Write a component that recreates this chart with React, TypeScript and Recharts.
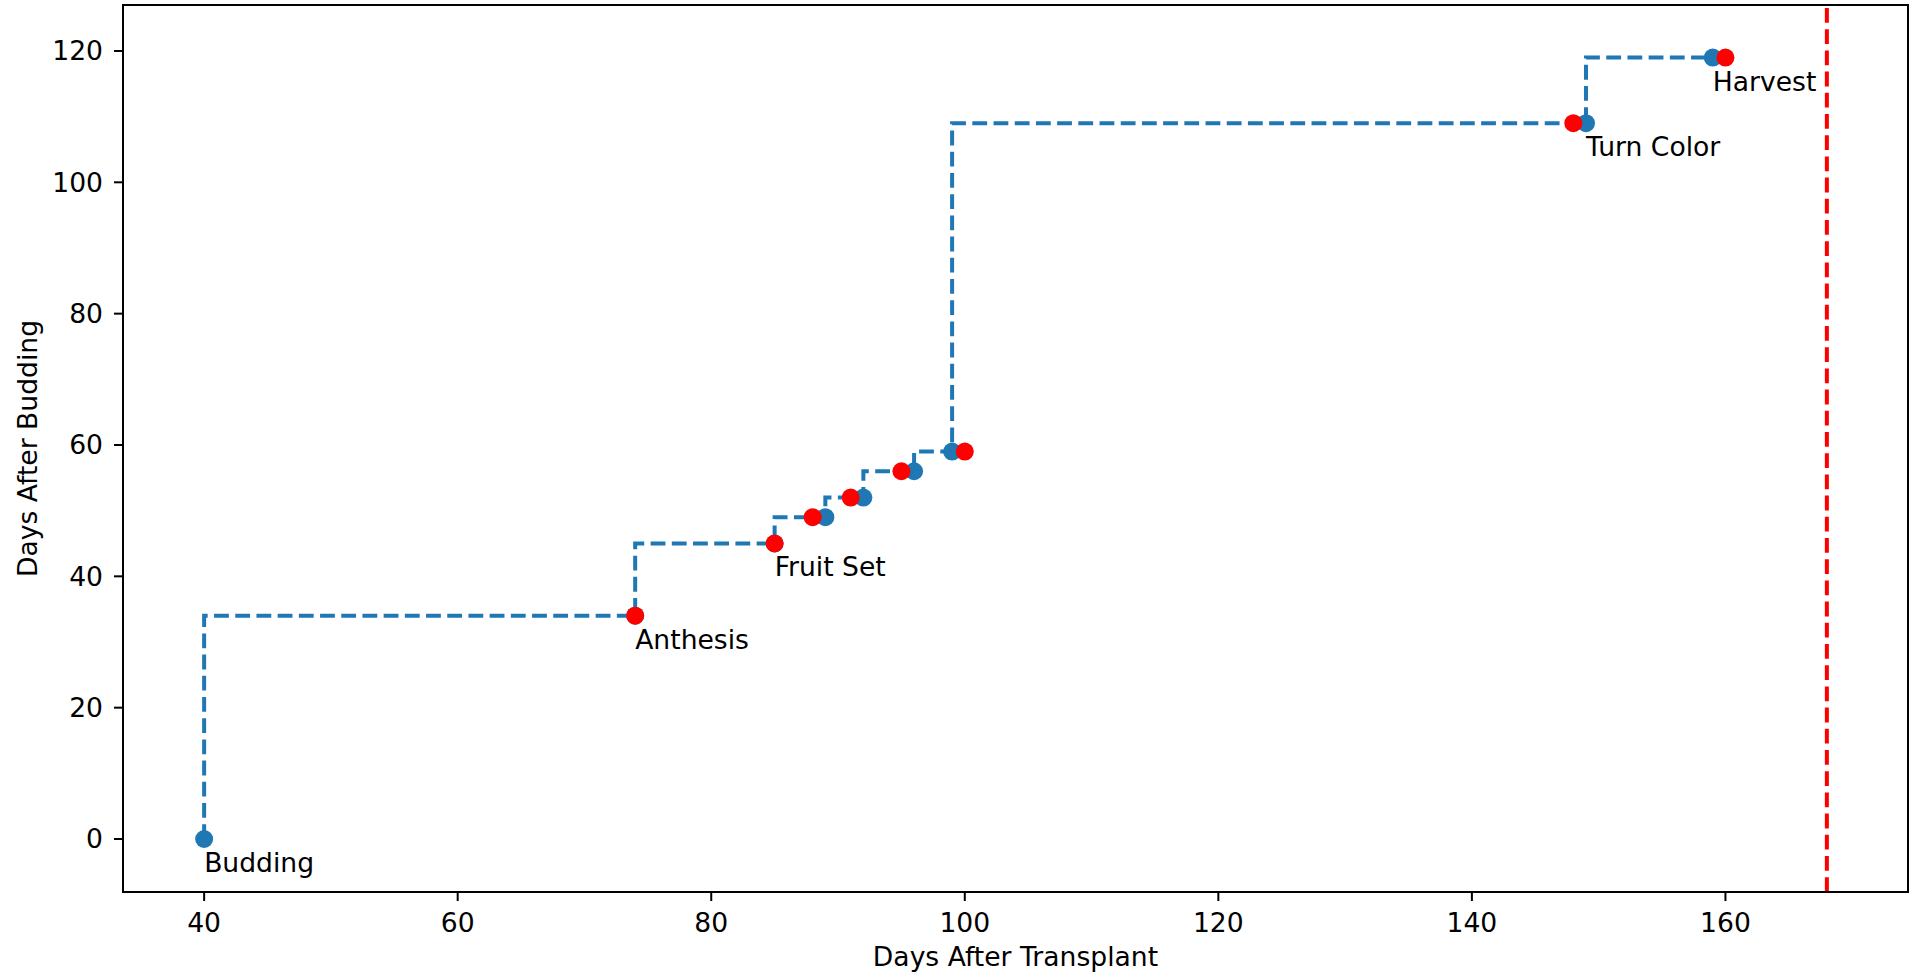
import React from 'react';
import { ComposedChart, Line, Scatter, XAxis, YAxis, ReferenceLine, ReferenceArea } from 'recharts';

// stage model (step line + blue dots)
const stageDays = [40, 74, 85, 89, 92, 96, 99, 149, 159];
const stageValues = [0, 34, 45, 49, 52, 56, 59, 109, 119];
const stageNames = ['Budding', 'Anthesis', 'Fruit Set', '', '', '', '', 'Turn Color', 'Harvest'];

// observed stages (red dots)
const observedDays = [74, 85, 88, 91, 95, 100, 148, 160];
const observedValues = [34, 45, 49, 52, 56, 59, 109, 119];

const cutoffDay = 168;

const xTicks = [40, 60, 80, 100, 120, 140, 160];
const yTicks = [0, 20, 40, 60, 80, 100, 120];
const xDomain = [33.6, 174.4];
const yDomain = [-8.07, 127];

const stagePoints = stageDays.map((x, i) => ({ x, y: stageValues[i], label: stageNames[i] }));
const observedPoints = observedDays.map((x, i) => ({ x, y: observedValues[i] }));

const FONT = '"DejaVu Sans", sans-serif';
const FS = 26.6;
const BLUE = '#1f77b4';
const RED = '#ff0000';

const BlueDot = (props: any) => {
  const { cx, cy, payload } = props;
  return (
    <g>
      <circle cx={cx} cy={cy} r={9} fill={BLUE} />
      {payload.label ? (
        <text x={cx} y={cy + 33} fontSize={FS} fontFamily={FONT} fill="#000">
          {payload.label}
        </text>
      ) : null}
    </g>
  );
};

const RedDot = (props: any) => <circle cx={props.cx} cy={props.cy} r={9} fill={RED} />;

const tickStyle = { fontSize: FS, fill: '#000', fontFamily: FONT };
const lineStyle = { stroke: '#000', strokeWidth: 2 };

export default function App() {
  return (
    <div style={{ position: 'absolute', left: 0, top: 0, background: '#fff' }}>
      <ComposedChart width={1909} height={976} margin={{ top: 5, right: 1, bottom: 0, left: 0 }}>
        <XAxis
          type="number"
          dataKey="x"
          domain={xDomain}
          ticks={xTicks}
          allowDataOverflow
          height={84}
          tick={tickStyle}
          tickSize={9}
          tickMargin={12}
          tickLine={lineStyle}
          axisLine={lineStyle}
          label={{
            content: (p: any) => {
              const vb = p.viewBox;
              return (
                <text x={vb.x + vb.width / 2} y={966} textAnchor="middle" fontSize={FS} fontFamily={FONT} fill="#000">
                  Days After Transplant
                </text>
              );
            },
          }}
        />
        <YAxis
          type="number"
          dataKey="y"
          domain={yDomain}
          ticks={yTicks}
          allowDataOverflow
          width={123}
          tick={tickStyle}
          tickSize={9}
          tickMargin={11}
          tickLine={lineStyle}
          axisLine={lineStyle}
          label={{
            content: (p: any) => {
              const vb = p.viewBox;
              const cy = vb.y + vb.height / 2;
              return (
                <text
                  x={37}
                  y={cy}
                  transform={`rotate(-90, 37, ${cy})`}
                  textAnchor="middle"
                  fontSize={FS}
                  fontFamily={FONT}
                  fill="#000"
                >
                  Days After Budding
                </text>
              );
            },
          }}
        />
        <ReferenceArea
          x1={xDomain[0]}
          x2={xDomain[1]}
          y1={yDomain[0]}
          y2={yDomain[1]}
          fill="none"
          stroke="#000"
          strokeWidth={2}
        />
        <Line
          data={stagePoints}
          dataKey="y"
          type="stepBefore"
          stroke={BLUE}
          strokeWidth={4}
          strokeDasharray="14.8 6.4"
          dot={false}
          activeDot={false}
          isAnimationActive={false}
        />
        <ReferenceLine x={cutoffDay} stroke={RED} strokeWidth={4} strokeDasharray="14.8 6.4" />
        <Scatter data={stagePoints} shape={BlueDot} isAnimationActive={false} />
        <Scatter data={observedPoints} shape={RedDot} isAnimationActive={false} />
      </ComposedChart>
    </div>
  );
}
